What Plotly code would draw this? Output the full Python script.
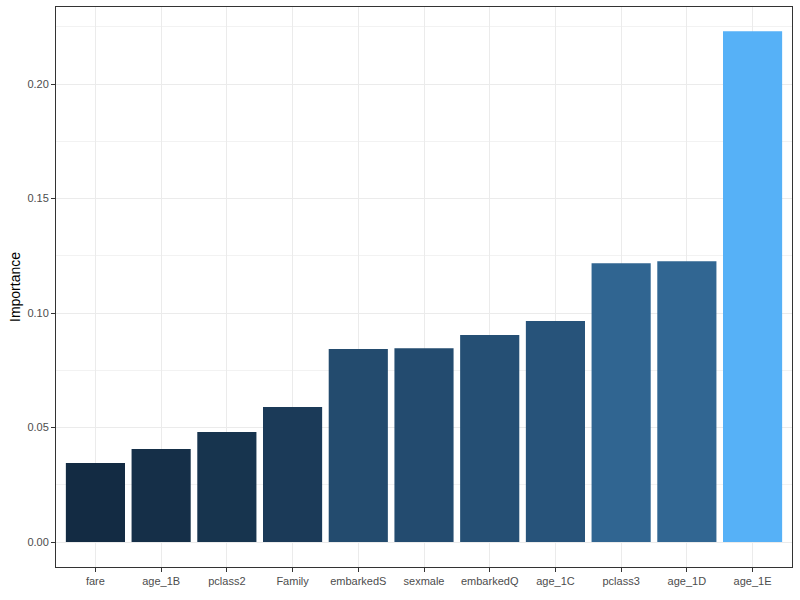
import numpy as np
import plotly.graph_objects as go

features = ["fare", "age_1B", "pclass2", "Family", "embarkedS", "sexmale",
            "embarkedQ", "age_1C", "pclass3", "age_1D", "age_1E"]
importance = [0.0345, 0.0406, 0.0481, 0.0590, 0.0843, 0.0847,
              0.0904, 0.0965, 0.1218, 0.1227, 0.2231]

LOW = "#132B43"
HIGH = "#56B1F7"


def hex2rgb(h):
    h = h.lstrip("#")
    return np.array([int(h[i:i + 2], 16) for i in (0, 2, 4)]) / 255.0


def srgb2lin(c):
    return np.where(c <= 0.04045, c / 12.92, ((c + 0.055) / 1.055) ** 2.4)


def lin2srgb(c):
    return np.where(c <= 0.0031308, 12.92 * c, 1.055 * np.clip(c, 0, None) ** (1 / 2.4) - 0.055)


M = np.array([[0.4124, 0.3576, 0.1805],
              [0.2126, 0.7152, 0.0722],
              [0.0193, 0.1192, 0.9505]])
WHITE = np.array([0.95047, 1.0, 1.08883])


def f(t):
    d = 6 / 29
    return np.where(t > d ** 3, np.cbrt(t), t / (3 * d * d) + 4 / 29)


def finv(t):
    d = 6 / 29
    return np.where(t > d, t ** 3, 3 * d * d * (t - 4 / 29))


def rgb2lab(rgb):
    xyz = M @ srgb2lin(rgb) / WHITE
    fx, fy, fz = f(xyz)
    return np.array([116 * fy - 16, 500 * (fx - fy), 200 * (fy - fz)])


def lab2rgb(lab):
    L, a, b = lab
    fy = (L + 16) / 116
    fx = fy + a / 500
    fz = fy - b / 200
    xyz = np.array([finv(fx), finv(fy), finv(fz)]) * WHITE
    rgb = lin2srgb(np.linalg.solve(M, xyz))
    rgb = np.clip(rgb, 0, 1)
    return "#%02X%02X%02X" % tuple(int(round(v * 255)) for v in rgb)


lab_lo, lab_hi = rgb2lab(hex2rgb(LOW)), rgb2lab(hex2rgb(HIGH))
vmin, vmax = min(importance), max(importance)
colors = [lab2rgb(lab_lo + (v - vmin) / (vmax - vmin) * (lab_hi - lab_lo)) for v in importance]

fig = go.Figure(go.Bar(x=features, y=importance, marker=dict(color=colors, line=dict(width=0)),
                       width=0.9, hoverinfo="x+y"))

font_family = "Liberation Sans, Arial, sans-serif"
L_M, R_M, T_M, B_M = 56, 8, 7, 33
plot_w = 800 - L_M - R_M
fig.update_layout(
    width=800, height=600,
    margin=dict(l=L_M, r=R_M, t=T_M, b=B_M, autoexpand=False),
    plot_bgcolor="white", paper_bgcolor="white",
    showlegend=False,
    font=dict(family=font_family, size=11, color="#4D4D4D"),
    bargap=0.1,
)
fig.update_xaxes(
    range=[-0.6, 10.6], showgrid=True, gridcolor="#EBEBEB", gridwidth=1,
    showline=True, linecolor="#333333", linewidth=1, mirror=True,
    ticks="outside", ticklen=4, tickcolor="#333333", tickwidth=1,
    tickfont=dict(size=11, color="#4D4D4D"), zeroline=False, automargin=False,
)
fig.update_yaxes(
    range=[-0.0109, 0.2337], tick0=0, dtick=0.05, tickformat=".2f",
    showgrid=True, gridcolor="#EBEBEB", gridwidth=1,
    minor=dict(showgrid=True, gridcolor="#F2F2F2", gridwidth=0.6, dtick=0.025, tick0=0),
    showline=True, linecolor="#333333", linewidth=1, mirror=True,
    ticks="outside", ticklen=4, tickcolor="#333333", tickwidth=1,
    tickfont=dict(size=11, color="#4D4D4D"), zeroline=False, automargin=False,
)
fig.add_annotation(
    text="Importance", textangle=-90, showarrow=False,
    xref="paper", yref="paper", x=-(L_M - 15) / plot_w, y=0.5,
    xanchor="center", yanchor="middle",
    font=dict(size=14, color="black", family=font_family),
)

fig.write_html("out.html", config={"displayModeBar": False},
               post_script="document.body.style.margin='0';")
